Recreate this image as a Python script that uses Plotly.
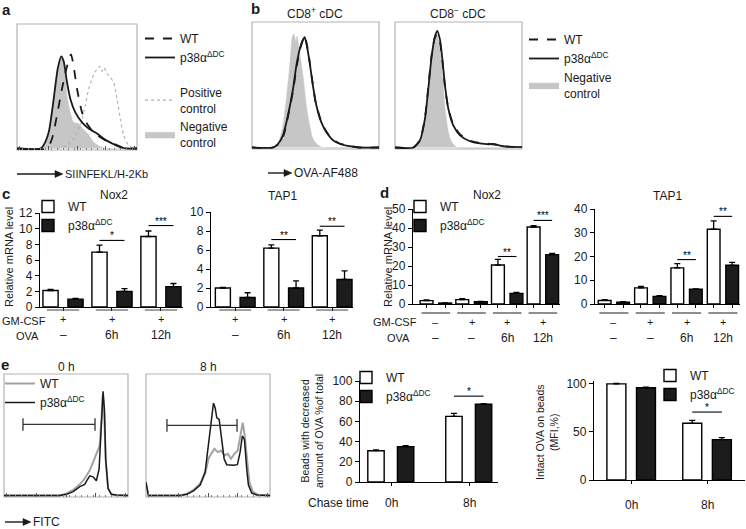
import plotly.graph_objects as go

W, H = 746, 529
FONT = "Liberation Sans, Arial, Helvetica, sans-serif"
WT = "WT"
KO = "p38α<sup>ΔDC</sup>"

# ---------------- panel a : SIINFEKL/H-2Kb histograms (x: % of axis, y: % of axis) -------------
a_neg_x = [0, 19.4, 23.6, 27.8, 30.6, 33.3, 36.1, 37.5, 39.4, 41.7, 44.4, 47.2, 51.4, 55.6, 59.7, 63.9, 69.4, 75, 100]
a_neg_y = [0, 0, 2.7, 18.6, 40, 61, 72, 74, 68, 42, 29, 21, 20, 15, 11, 5, 1.5, 0, 0]
a_ko_x = [0, 19.4, 22.2, 26.4, 30.6, 33.9, 36.9, 38.9, 41.7, 44.4, 48.6, 54.2, 59.7, 66.7, 73.6, 80.6, 86.1, 91.7, 100]
a_ko_y = [0, 0, 2.7, 13, 40, 64, 74, 70, 53, 40, 29, 21, 16, 12, 7, 3.4, 1, 0, 0]
a_wt_x = [0, 25, 29.2, 33.3, 37.5, 41.7, 45, 47.2, 50, 54.2, 58.3, 63.9, 69.4, 76.4, 83.3, 88.9, 91.7, 100]
a_wt_y = [0, 0, 8, 26.5, 48, 66, 75.6, 66, 48, 29, 20, 13, 9, 5, 2.7, 0.5, 0, 0]
a_pos_x = [33.3, 41.7, 47.2, 52.8, 56.9, 59.7, 62.5, 65.3, 67.2, 68.9, 70.8, 72.5, 75, 77.8, 80.6, 83.3, 86.1, 88.9, 93, 97.2]
a_pos_y = [0, 2.7, 8, 18.6, 34.5, 48, 56, 62, 64, 66, 62, 65, 60.5, 57, 53, 40, 24, 10.6, 2.7, 0]

# ---------------- panel b : OVA-AF488 histograms -------------
b1_neg_x = [0, 19.2, 21.8, 24.4, 27, 29.7, 31.8, 33.1, 34.4, 35.4, 37.5, 40.2, 42.8, 45.4, 48, 52, 55.9, 100]
b1_neg_y = [0, 0, 7, 17.6, 38.7, 65, 88.7, 90.5, 84, 88.7, 75.5, 57, 33, 17.6, 7, 1.8, 0, 0]
b1_ko_x = [0, 16.5, 20.5, 24.4, 28.3, 32.3, 34.9, 37.5, 39.6, 41.5, 43.3, 45.4, 48, 50.7, 54.6, 58.5, 63.8, 69, 76.9, 84.8, 100]
b1_ko_y = [0, 0, 3, 9.7, 25.5, 46.6, 65, 78, 84.7, 87.9, 80.5, 67.6, 49, 33.4, 20, 12.4, 5.8, 3, 1, 0, 0]
b1_wt_x = [0, 16.5, 21.3, 25, 28.6, 32.3, 35.4, 38, 40.2, 41.2, 42.8, 44.9, 47.5, 50.1, 54.1, 58, 63.3, 69, 76.9, 84.8, 100]
b1_wt_y = [0, 0, 3, 10, 26, 45, 66, 79, 86, 89, 84, 72, 53, 36, 22, 13.5, 6.5, 3.2, 1.2, 0, 0]

b2_neg_x = [0, 15.7, 21, 24.9, 27.6, 30.2, 32.8, 35.4, 37.3, 39.4, 42, 44.6, 48.6, 100]
b2_neg_y = [0, 0, 7, 30.8, 59.7, 83.4, 91.3, 78, 59.7, 30.8, 12.4, 4.5, 0, 0]
b2_ko_x = [0, 14.4, 19.7, 23.6, 26.2, 28.9, 31.5, 33.3, 35.4, 37.3, 39.4, 42, 45.9, 51.2, 59, 66.9, 73.5, 77.4, 82.7, 87.9, 100]
b2_ko_y = [0, 0, 5.8, 23, 46.6, 73, 88.7, 93, 86, 70.5, 49, 30.8, 17.6, 9.7, 5, 3.2, 2.6, 2.8, 1.5, 0.7, 0.3]
b2_wt_x = [0, 14.4, 19.7, 23.6, 26.2, 28.9, 31.5, 33.3, 35.4, 37.3, 39.4, 42, 45.9, 51.2, 59, 66.9, 73.5, 77.4, 82.7, 87.9, 100]
b2_wt_y = [0, 0, 6, 24, 48, 74, 88, 90, 84, 69, 48, 31, 18.5, 10.5, 5.5, 3.5, 3, 2.5, 1.8, 0.8, 0.3]

# ---------------- panel c / d : relative mRNA level -------------
c_gm = ["+", "+", "+"]
c_ova = ["–", "6h", "12h"]
c_nox2_wt = [2.1, 7.0, 9.0]
c_nox2_wt_err = [0.15, 0.9, 0.7]
c_nox2_ko = [1.0, 2.0, 2.6]
c_nox2_ko_err = [0.1, 0.35, 0.4]
c_nox2_sig = ["", "*", "***"]
c_nox2_sig_y = [None, 8.5, 10.4]
c_tap1_wt = [2.0, 6.2, 7.5]
c_tap1_wt_err = [0.05, 0.35, 0.6]
c_tap1_ko = [1.0, 2.0, 2.9]
c_tap1_ko_err = [0.5, 0.75, 0.9]
c_tap1_sig = ["", "**", "**"]
c_tap1_sig_y = [None, 7.1, 8.5]

d_gm = ["–", "+", "+", "+"]
d_ova = ["–", "–", "6h", "12h"]
d_nox2_wt = [1.8, 2.3, 20.5, 40.5]
d_nox2_wt_err = [0.3, 0.5, 3.0, 0.7]
d_nox2_ko = [0.5, 1.2, 5.6, 26.0]
d_nox2_ko_err = [0.1, 0.2, 0.5, 0.6]
d_nox2_sig = ["", "", "**", "***"]
d_nox2_sig_y = [None, None, 25, 44]
d_tap1_wt = [1.5, 6.8, 15.2, 31.5]
d_tap1_wt_err = [0.3, 0.6, 1.8, 3.5]
d_tap1_ko = [0.8, 3.2, 6.2, 16.3]
d_tap1_ko_err = [0.2, 0.3, 0.2, 1.2]
d_tap1_sig = ["", "", "**", "**"]
d_tap1_sig_y = [None, None, 18.7, 36.9]

# ---------------- panel e : FITC histograms + bead quantification -------------
e1_ko_x = [0, 45, 50.4, 55.8, 61.1, 65.1, 67, 69.2, 71.8, 74.5, 76.7, 78, 79.4, 79.9, 81, 82, 83.9, 86.6, 90.6, 100]
e1_ko_y = [0, 0, 1, 3.2, 7.3, 9.2, 12.7, 16.2, 15.4, 12.2, 22, 49, 83, 85.7, 70.8, 30, 6, 1, 0.5, 0]
e1_wt_x = [0, 45, 50.4, 55.8, 61.1, 65.1, 69.2, 72.7, 75.4, 77.2, 78.6, 79.6, 80.7, 82, 83.9, 86.6, 90.6, 100]
e1_wt_y = [0, 0, 1.5, 4.6, 9.2, 14, 20.8, 30.3, 37, 41, 62.7, 83, 70.8, 30, 6, 1, 0.3, 0]
e2_ko_x = [0, 0.8, 2, 27.6, 33, 38.3, 43.7, 47.7, 50.4, 52.5, 54.4, 55.8, 57.1, 59, 61.1, 63, 65.1, 70.5, 73.7, 75.9, 77.7, 79.4, 81.2, 82.6, 85.3, 89.3, 100]
e2_ko_y = [11, 5, 0, 0, 1, 3.8, 8.6, 19.5, 43.8, 64, 76, 72, 64, 62.7, 46.5, 30.3, 25.4, 24.9, 25.4, 35.7, 49, 46, 22, 8.6, 2, 0.5, 0]
e2_wt_x = [0, 0.8, 2, 27.6, 33, 38.3, 43.7, 47.7, 50.4, 52.5, 55.2, 57.9, 60.6, 63.3, 66, 68.6, 71.3, 74, 76.4, 78, 79.4, 81.2, 83.4, 86, 90.6, 100]
e2_wt_y = [9, 4, 0, 0, 1.5, 4.6, 10, 18, 30.3, 34.3, 38.4, 35.7, 37, 33, 34.3, 30.3, 34.3, 37, 49, 60, 51, 30, 11, 3.2, 0.5, 0]
e_gate_x0 = [15.3, 16.9]
e_gate_x1 = [73.4, 73.4]
e_gate_y = [58.5, 57.7]

e_time = ["0h", "8h"]
e_beads_wt = [31, 65]
e_beads_wt_err = [0.8, 3]
e_beads_ko = [35, 77]
e_beads_ko_err = [1, 0.5]
e_beads_sig = ["", "*"]
e_beads_sig_y = [None, 85]
e_mfi_wt = [100, 59]
e_mfi_wt_err = [0.4, 3]
e_mfi_ko = [96, 42]
e_mfi_ko_err = [0.5, 2]
e_mfi_sig = ["", "*"]
e_mfi_sig_y = [None, 70.7]


def fx(p):
    return p / W


def fy(p):
    return 1 - p / H


def ids(i):
    return ("x", "y") if i == 1 else (f"x{i}", f"y{i}")


fig = go.Figure()
layout = {}
shapes = []
annotations = []

# pixel boxes of each plot area: (left, right, top, bottom)
boxes = {
    1: (17, 137, 24, 150),
    2: (252, 379, 22, 149),
    3: (395, 522, 22, 149),
    4: (40, 183, 213, 307),
    5: (211, 353, 212, 307),
    6: (413, 560, 209, 304),
    7: (595, 740, 209, 304),
    8: (4, 128, 374, 497),
    9: (146, 270, 374, 497),
    10: (360, 498, 381, 482),
    11: (594, 745, 381, 480),
}

# ---------- histogram axes ----------
for i in (1, 2, 3, 8, 9):
    l, r, t, b = boxes[i]
    xr, yr = ids(i)
    xa = dict(domain=[fx(l), fx(r)], anchor=yr, range=[0, 100], showgrid=False, zeroline=False,
              showline=False, showticklabels=False, ticks="", fixedrange=True, automargin=False)
    if i in (1, 8, 9):
        xa.update(ticks="inside", tickmode="linear", tick0=2, dtick=24, ticklen=4, tickwidth=1,
                  tickcolor="#555", minor=dict(ticks="inside", dtick=4.8, ticklen=2, tickcolor="#888"))
    ya = dict(domain=[fy(b), fy(t)], anchor=xr, range=[-1.2, 100], showgrid=False, zeroline=False,
              showline=False, showticklabels=False, ticks="", fixedrange=True, automargin=False)
    layout["xaxis" if i == 1 else f"xaxis{i}"] = xa
    layout["yaxis" if i == 1 else f"yaxis{i}"] = ya
    shapes.append(dict(type="rect", xref=f"{xr} domain", yref=f"{yr} domain", x0=0, x1=1, y0=0, y1=1,
                       line=dict(color="#b4b4b4", width=1.2), layer="below"))


def curve(i, x, y, name, color, width, dash="solid", legend="legend", show=True, rank=1,
          fill=None, shape="spline"):
    xr, yr = ids(i)
    kw = dict(x=x, y=y, mode="lines", name=name, xaxis=xr, yaxis=yr, legend=legend,
              showlegend=show, legendrank=rank, hoverinfo="skip",
              line=dict(color=color, width=width, dash=dash, shape=shape, smoothing=0.6))
    if fill:
        kw.update(fill="tozeroy", fillcolor=fill)
    fig.add_trace(go.Scatter(**kw))


NEG = "#c6c6c6"
# panel a
curve(1, a_neg_x, a_neg_y, "Negative<br>control", NEG, 0.5, legend="legend2", rank=2, fill=NEG)
curve(1, a_pos_x, a_pos_y, "Positive<br>control", "#b0b0b0", 1.1, dash="dot", legend="legend2", rank=1)
curve(1, a_ko_x, a_ko_y, KO, "#1a1a1a", 1.8, legend="legend", rank=2)
curve(1, a_wt_x, a_wt_y, WT, "#1a1a1a", 1.8, dash="dash", legend="legend", rank=1)
# panel b
for i, nx, ny, kx, ky, wx, wy in ((2, b1_neg_x, b1_neg_y, b1_ko_x, b1_ko_y, b1_wt_x, b1_wt_y),
                                   (3, b2_neg_x, b2_neg_y, b2_ko_x, b2_ko_y, b2_wt_x, b2_wt_y)):
    show = i == 2
    curve(i, nx, ny, "Negative<br>control", NEG, 0.5, legend="legend3", show=show, rank=3, fill=NEG)
    curve(i, kx, ky, KO, "#1a1a1a", 1.8, legend="legend3", show=show, rank=2)
    curve(i, wx, wy, WT, "#1a1a1a", 1.8, dash="dash", legend="legend3", show=show, rank=1)
# panel e histograms
for i, wx, wy, kx, ky in ((8, e1_wt_x, e1_wt_y, e1_ko_x, e1_ko_y), (9, e2_wt_x, e2_wt_y, e2_ko_x, e2_ko_y)):
    show = i == 8
    curve(i, wx, wy, WT, "#a3a3a3", 2.0, legend="legend6", show=show, rank=1, shape="linear")
    curve(i, kx, ky, KO, "#1a1a1a", 1.5, legend="legend6", show=show, rank=2, shape="linear")
for k, i in enumerate((8, 9)):
    xr, yr = ids(i)
    fig.add_trace(go.Scatter(x=[e_gate_x0[k], e_gate_x1[k]], y=[e_gate_y[k], e_gate_y[k]],
                             mode="lines+markers", xaxis=xr, yaxis=yr, showlegend=False, hoverinfo="skip",
                             line=dict(color="#333", width=1.3),
                             marker=dict(symbol="line-ns-open", size=9, line=dict(color="#333", width=1.3))))

# ---------- bar charts ----------
bar_specs = [
    (4, c_nox2_wt, c_nox2_wt_err, c_nox2_ko, c_nox2_ko_err, c_nox2_sig, c_nox2_sig_y, 12, 2, [-0.47, 2.45], 0.31, -0.41, 0.10, "legend4"),
    (5, c_tap1_wt, c_tap1_wt_err, c_tap1_ko, c_tap1_ko_err, c_tap1_sig, c_tap1_sig_y, 10, 2, [-0.5, 2.43], 0.31, -0.41, 0.10, None),
    (6, d_nox2_wt, d_nox2_wt_err, d_nox2_ko, d_nox2_ko_err, d_nox2_sig, d_nox2_sig_y, 50, 10, [-0.64, 3.48], 0.36, -0.44, 0.08, "legend5"),
    (7, d_tap1_wt, d_tap1_wt_err, d_tap1_ko, d_tap1_ko_err, d_tap1_sig, d_tap1_sig_y, 40, 10, [-0.52, 3.47], 0.35, -0.43, 0.08, None),
    (10, e_beads_wt, e_beads_wt_err, e_beads_ko, e_beads_ko_err, e_beads_sig, e_beads_sig_y, 100, 20, [-0.4, 1.37], 0.21, -0.3, 0.08, "legend7"),
    (11, e_mfi_wt, e_mfi_wt_err, e_mfi_ko, e_mfi_ko_err, e_mfi_sig, e_mfi_sig_y, 103, 50, [-0.49, 1.5], 0.25, -0.32, 0.07, "legend8"),
]
for (i, wt, wte, ko, koe, sig, sigy, ymax, dt, xrng, bw, woff, koff, leg) in bar_specs:
    l, r, t, b = boxes[i]
    xr, yr = ids(i)
    n = len(wt)
    cats = list(range(n))
    if i in (6, 7):
        tv = [c + woff + bw / 2 for c in cats] + [c + koff + bw / 2 for c in cats]
    else:
        tv = cats
    layout[f"xaxis{i}"] = dict(domain=[fx(l), fx(r)], anchor=yr, range=xrng, showgrid=False, zeroline=False,
                               showline=True, linecolor="black", linewidth=1.3, ticks="outside",
                               ticklen=3, tickwidth=1.2, tickcolor="black", tickvals=tv,
                               showticklabels=False, fixedrange=True, automargin=False)
    layout[f"yaxis{i}"] = dict(domain=[fy(b), fy(t)], anchor=xr, range=[0, ymax], showgrid=False,
                               zeroline=False, showline=True, linecolor="black", linewidth=1.3,
                               ticks="outside", ticklen=4, tickwidth=1.3, tickcolor="black",
                               tick0=0, dtick=dt, tickfont=dict(size=12), fixedrange=True,
                               automargin=False)
    show = leg is not None
    fig.add_trace(go.Bar(x=cats, y=wt, width=bw, offset=woff, name=WT, xaxis=xr, yaxis=yr,
                         legend=leg if leg else "legend4", showlegend=show, hoverinfo="skip",
                         marker=dict(color="white", line=dict(color="black", width=1.4)),
                         error_y=dict(type="data", symmetric=False, array=wte, arrayminus=[0] * n,
                                      color="black", thickness=1.3, width=3)))
    fig.add_trace(go.Bar(x=cats, y=ko, width=bw, offset=koff, name=KO, xaxis=xr, yaxis=yr,
                         legend=leg if leg else "legend4", showlegend=show, hoverinfo="skip",
                         marker=dict(color="#1c1c1c", line=dict(color="black", width=1.4)),
                         error_y=dict(type="data", symmetric=False, array=koe, arrayminus=[0] * n,
                                      color="black", thickness=1.3, width=3)))
    for c in cats:
        if sig[c]:
            x0 = c + woff + bw / 2
            x1 = c + koff + bw / 2
            shapes.append(dict(type="line", xref=xr, yref=yr, x0=x0, x1=x1, y0=sigy[c], y1=sigy[c],
                               line=dict(color="black", width=1.1)))
            annotations.append(dict(x=(x0 + x1) / 2, y=sigy[c], xref=xr, yref=yr, text=sig[c],
                                    showarrow=False, xanchor="center", yanchor="bottom", yshift=-3,
                                    font=dict(size=10, color="black")))

# treatment rows under c and d
for i, gm, ova, hw, yline, y1, y2 in ((4, c_gm, c_ova, 0.33, 310, 319, 335),
                                      (5, c_gm, c_ova, 0.33, 310, 319, 335),
                                      (6, d_gm, d_ova, 0.4, 313, 322, 338),
                                      (7, d_gm, d_ova, 0.4, 313, 322, 338)):
    xr, yr = ids(i)
    for c in range(len(gm)):
        shapes.append(dict(type="line", xref=xr, yref="paper", x0=c - hw, x1=c + hw, y0=fy(yline), y1=fy(yline),
                           line=dict(color="#444", width=1.2)))
        annotations.append(dict(x=c, y=fy(y1), xref=xr, yref="paper", text=gm[c], showarrow=False,
                                xanchor="center", yanchor="middle", font=dict(size=11)))
        annotations.append(dict(x=c, y=fy(y2), xref=xr, yref="paper", text=ova[c], showarrow=False,
                                xanchor="center", yanchor="middle", font=dict(size=12)))
for lx, ly1, ly2 in ((0, 321, 336), (371, 322, 338)):
    annotations.append(dict(x=fx(lx), y=fy(ly1), xref="paper", yref="paper", text="GM-CSF",
                            xanchor="left", yanchor="middle", showarrow=False, font=dict(size=11)))
    annotations.append(dict(x=fx(lx + 41), y=fy(ly2), xref="paper", yref="paper", text="OVA",
                            xanchor="right", yanchor="middle", showarrow=False, font=dict(size=11)))

# time labels under e bar charts
for i, yrow in ((10, 503), (11, 505)):
    xr, yr = ids(i)
    for c, lab in enumerate(e_time):
        annotations.append(dict(x=c, y=fy(yrow), xref=xr, yref="paper", text=lab, showarrow=False,
                                xanchor="center", yanchor="middle", font=dict(size=12)))
annotations.append(dict(x=fx(371), y=fy(503), xref="paper", yref="paper", text="Chase time",
                        xanchor="right", yanchor="middle", showarrow=False, font=dict(size=12)))


def text(x, y, s, size=12, angle=0, anchor="center", bold=False):
    annotations.append(dict(x=fx(x), y=fy(y), xref="paper", yref="paper", showarrow=False,
                            text=f"<b>{s}</b>" if bold else s, textangle=angle, xanchor=anchor,
                            yanchor="middle", font=dict(size=size)))


text(6, 9, "a", 15, bold=True)
text(255, 8, "b", 15, bold=True)
text(6, 194, "c", 15, bold=True)
text(384, 193, "d", 15, bold=True)
text(5, 364, "e", 15, bold=True)
text(315, 13, "CD8<sup>+</sup> cDC", 12)
text(458, 13, "CD8<sup>−</sup> cDC", 12)
text(114, 195, "Nox2", 12)
text(282, 196, "TAP1", 12)
text(487, 195, "Nox2", 12)
text(667, 196, "TAP1", 12)
text(66, 367, "0 h", 12)
text(208, 367, "8 h", 12)
text(9, 257, "Relative mRNA level", 11, angle=-90)
text(388, 257, "Relative mRNA level", 11, angle=-90)
text(312, 431, "Beads with decreased<br>amount of OVA %of total", 10.5, angle=-90)
text(547, 432, "Intact OVA on beads<br>(MFI,%)", 10.5, angle=-90)

# axis arrows (line + triangular head) and their labels
for x0, x_tip, y, lab, size in ((17, 63, 174, "SIINFEKL/H-2Kb", 11), (268, 292, 173, "OVA-AF488", 12),
                                (5, 31, 522, "FITC", 12)):
    shapes.append(dict(type="line", xref="paper", yref="paper", x0=fx(x0), x1=fx(x_tip - 5),
                       y0=fy(y), y1=fy(y), line=dict(color="#1a1a1a", width=1.4)))
    shapes.append(dict(type="path", xref="paper", yref="paper",
                       path=f"M {fx(x_tip - 8)} {fy(y - 3.5)} L {fx(x_tip)} {fy(y)} L {fx(x_tip - 8)} {fy(y + 3.5)} Z",
                       fillcolor="#1a1a1a", line=dict(color="#1a1a1a", width=0.5)))
    annotations.append(dict(x=fx(x_tip), y=fy(y), xref="paper", yref="paper", text=lab,
                            xanchor="left", yanchor="middle", showarrow=False, font=dict(size=size)))

leg_common = dict(bgcolor="rgba(0,0,0,0)", xanchor="left", yanchor="top", tracegroupgap=0,
                  font=dict(size=12, color="#1a1a1a"), itemclick=False, itemdoubleclick=False)
legends = {
    "legend": (140, 24),
    "legend2": (140, 78),
    "legend3": (524, 25),
    "legend4": (28, 192),
    "legend5": (400, 192),
    "legend6": (0, 369),
    "legend7": (346, 363),
    "legend8": (650, 361),
}
for k, (lx, ly) in legends.items():
    layout[k] = dict(x=fx(lx), y=fy(ly), **leg_common)

fig.update_layout(width=W, height=H, margin=dict(l=0, r=0, t=0, b=0, pad=0), autosize=False,
                  paper_bgcolor="white", plot_bgcolor="white",
                  font=dict(family=FONT, size=12, color="#1a1a1a"),
                  barmode="overlay", shapes=shapes, annotations=annotations, showlegend=True,
                  **layout)
fig.write_html("out.html", config={"displayModeBar": False},
               post_script="document.body.style.margin='0';")
